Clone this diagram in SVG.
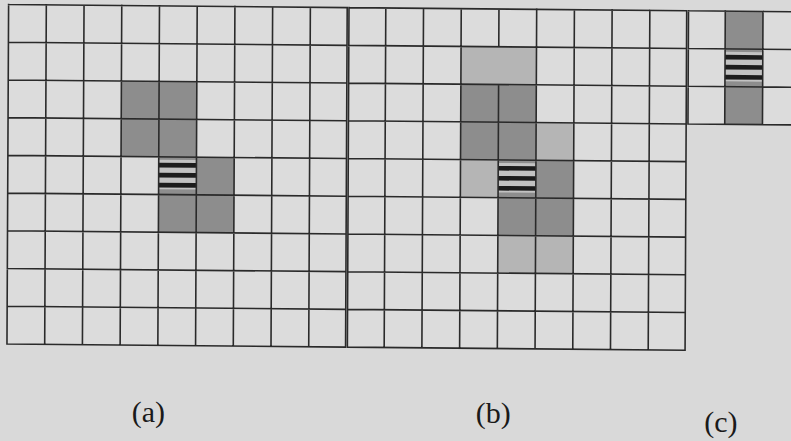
<svg xmlns="http://www.w3.org/2000/svg" xmlns:xlink="http://www.w3.org/1999/xlink" width="791" height="441" viewBox="0 0 791 441">
  <style>
    .paper { fill: #d9d9d9; }
    .cell { fill: #dcdcdc; }
    .dark { fill: #8d8d8d; }
    .soft { fill: #b5b5b5; }
    .grid { fill: none; stroke: #2a2a2a; stroke-width: 1.6; stroke-linecap: square; }
    .label { font-family: "Liberation Serif", "Times New Roman", serif; font-size: 30px; fill: #1a1a1a; text-anchor: middle; }
  </style>
  <defs>
    <!-- striped cell, drawn in cell-local units (one cell = 37.72) -->
    <g id="striped">
      <rect class="dark" x="0" y="0" width="37.72" height="37.72"/>
      <rect x="0" y="3" width="37.72" height="29.5" fill="#c2c2c2"/>
      <rect x="0" y="6" width="37.72" height="4.6" fill="#1c1c1c"/>
      <rect x="0" y="16" width="37.72" height="4.6" fill="#1c1c1c"/>
      <rect x="0" y="26" width="37.72" height="4.6" fill="#1c1c1c"/>
    </g>
  </defs>

  <rect class="paper" x="0" y="0" width="791" height="441"/>

  <!-- the sheet is slightly skewed; all grids share one frame -->
  <g transform="matrix(1 0.00925 -0.0048 1 8.6 4.5)">
    <g id="panel-a">
      <rect class="cell" x="0" y="0" width="338.6" height="339.48"/>
      <rect class="dark" x="113.16" y="75.44" width="75.44" height="75.44"/>
      <rect class="dark" x="188.6" y="150.88" width="37.72" height="75.44"/>
      <rect class="dark" x="150.88" y="188.6" width="37.72" height="37.72"/>
      <use xlink:href="#striped" href="#striped" x="150.88" y="150.88"/>
      <path class="grid" d="M0 0V339.48M37.72 0V339.48M75.44 0V339.48M113.16 0V339.48M150.88 0V339.48M188.6 0V339.48M226.32 0V339.48M264.04 0V339.48M301.76 0V339.48M338.6 0V339.48
        M0 0H338.6M0 37.72H338.6M0 75.44H338.6M0 113.16H338.6M0 150.88H338.6M0 188.6H338.6M0 226.32H338.6M0 264.04H338.6M0 301.76H338.6M0 339.48H338.6"/>
    </g>

    <g id="panel-b">
      <rect class="cell" x="340.4" y="0" width="337.7" height="339.48"/>
      <rect class="soft" x="452.64" y="37.72" width="75.44" height="37.72"/>
      <rect class="dark" x="452.64" y="75.44" width="75.44" height="75.44"/>
      <rect class="soft" x="528.08" y="113.16" width="37.72" height="37.72"/>
      <rect class="soft" x="452.64" y="150.88" width="37.72" height="37.72"/>
      <rect class="dark" x="528.08" y="150.88" width="37.72" height="37.72"/>
      <rect class="dark" x="490.36" y="188.6" width="75.44" height="37.72"/>
      <rect class="soft" x="490.36" y="226.32" width="75.44" height="37.72"/>
      <use xlink:href="#striped" href="#striped" x="490.36" y="150.88"/>
      <path class="grid" d="M340.4 0V339.48M377.2 0V339.48M414.92 0V339.48M452.64 0V339.48M490.36 0V37.72M490.36 75.44V339.48M528.08 0V339.48M565.8 0V339.48M603.52 0V339.48M641.24 0V339.48M678.1 0V339.48
        M340.4 0H678.1M340.4 37.72H678.1M340.4 75.44H678.1M340.4 113.16H678.1M340.4 150.88H678.1M340.4 188.6H678.1M340.4 226.32H678.1M340.4 264.04H678.1M340.4 301.76H678.1M340.4 339.48H678.1"/>
    </g>

    <g id="panel-c">
      <rect class="cell" x="679.9" y="0" width="125" height="113.16"/>
      <rect class="dark" x="716.68" y="0" width="37.72" height="37.72"/>
      <rect class="dark" x="716.68" y="75.44" width="37.72" height="37.72"/>
      <use xlink:href="#striped" href="#striped" x="716.68" y="37.72"/>
      <path class="grid" d="M679.9 0V113.16M716.68 0V113.16M754.4 0V113.16
        M679.9 0H805M679.9 37.72H805M679.9 75.44H805M679.9 113.16H805"/>
    </g>
  </g>

  <g id="labels">
    <text class="label" x="148.3" y="421.5">(a)</text>
    <text class="label" x="493.3" y="423">(b)</text>
    <text class="label" x="720.8" y="431.5">(c)</text>
  </g>
</svg>
